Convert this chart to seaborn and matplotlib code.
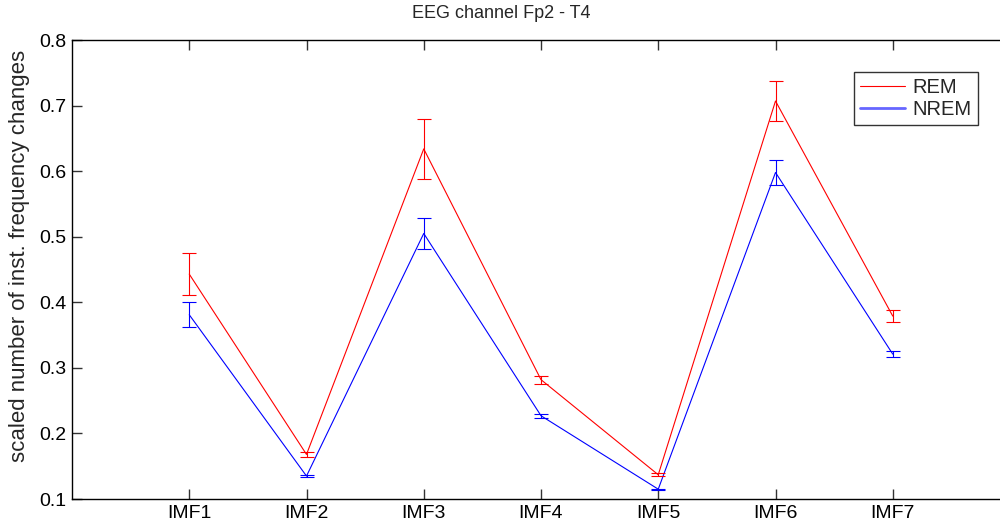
"""EEG channel Fp2 - T4: REM vs NREM, numero de cambios de frecuencia instantanea."""

import matplotlib
matplotlib.use("Agg")
import matplotlib.pyplot as plt
import pandas as pd
import seaborn as sns

imfs = ["IMF1", "IMF2", "IMF3", "IMF4", "IMF5", "IMF6", "IMF7"]
rem_mean = [0.443, 0.168, 0.634, 0.282, 0.137, 0.707, 0.379]
rem_err = [0.032, 0.004, 0.046, 0.006, 0.002, 0.031, 0.009]
nrem_mean = [0.381, 0.135, 0.505, 0.227, 0.115, 0.598, 0.321]
nrem_err = [0.019, 0.002, 0.023, 0.003, 0.001, 0.019, 0.005]

sns.set_style("ticks")
plt.rcParams["font.family"] = ["Liberation Sans", "DejaVu Sans"]
plt.rcParams.update({
    "xtick.direction": "in", "ytick.direction": "in",
    "xtick.top": True, "ytick.right": True,
    "xtick.major.size": 7, "ytick.major.size": 7,
    "xtick.major.width": 1.0, "ytick.major.width": 1.0,
    "xtick.color": "#333333", "ytick.color": "#333333",
    "xtick.labelcolor": "black", "ytick.labelcolor": "black",
})

x_pos = list(range(1, len(imfs) + 1))
df = pd.DataFrame({
    "x": x_pos * 2,
    "value": rem_mean + nrem_mean,
    "err": rem_err + nrem_err,
    "state": ["REM"] * len(imfs) + ["NREM"] * len(imfs),
})
colors = {"REM": "#ff0000", "NREM": "#0000ff"}

fig = plt.figure(figsize=(10, 5.26), dpi=100)
ax = fig.add_axes([0.072, 0.0513, 0.938, 0.8726])

sns.lineplot(data=df, x="x", y="value", hue="state", palette=colors,
             linewidth=0.8, ax=ax, legend=False)
for state, sub in df.groupby("state"):
    ax.errorbar(sub["x"], sub["value"], yerr=sub["err"], fmt="none",
                ecolor=colors[state], elinewidth=0.8, capsize=5, capthick=0.8)

y_ticks = [0.1, 0.2, 0.3, 0.4, 0.5, 0.6, 0.7, 0.8]
ax.set_xlim(0, 8)
ax.set_ylim(0.1, 0.8)
ax.set_xticks(x_pos)
ax.set_xticklabels(imfs)
ax.set_yticks(y_ticks)
ax.set_yticklabels([f"{v:.1f}" for v in y_ticks])
ax.tick_params(axis="both", which="major", direction="in", length=7, width=1.0,
               color="#333333", labelsize=14, top=True, right=True,
               bottom=True, left=True, pad=4)
ax.set_xlabel("")
ax.set_ylabel("")
for spine in ax.spines.values():
    spine.set_visible(True)
    spine.set_color("black")
    spine.set_linewidth(1.0)

handles = [plt.Line2D([], [], color="#ff0000", linewidth=0.8),
           plt.Line2D([], [], color="#0000ff", linewidth=2.0, alpha=0.6)]
leg = ax.legend(handles, ["REM", "NREM"], loc="upper right",
                bbox_to_anchor=(0.978, 1 - 72 / 526), bbox_transform=fig.transFigure,
                borderaxespad=0, fontsize=14.5, frameon=True, fancybox=False,
                handlelength=2.2, handletextpad=0.4, borderpad=0.3, labelspacing=0.15)
leg.get_frame().set_edgecolor("black")
leg.get_frame().set_linewidth(1.0)

fig.text(0.501, 1 - 14 / 526, "EEG channel Fp2 - T4", ha="center", va="center", fontsize=13)
fig.text(0.020, 1 - 256 / 526, "scaled number of inst. frequency changes",
         ha="center", va="center", rotation=90, fontsize=16)

plt.savefig("out.png", dpi=100)
plt.close(fig)
